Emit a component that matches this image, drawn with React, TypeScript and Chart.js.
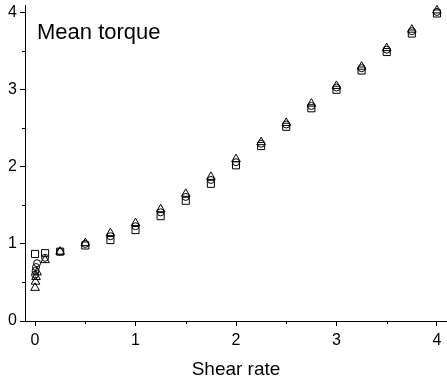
import React, { useEffect, useRef } from 'react';
import { Chart, registerables } from 'chart.js';

Chart.register(...registerables);

// Shear rate values (x) and mean torque values (y) for three series
const xSquares = [0, 0.1, 0.25, 0.5, 0.75, 1, 1.25, 1.5, 1.75, 2, 2.25, 2.5, 2.75, 3, 3.25, 3.5, 3.75, 4];
const ySquares = [0.87, 0.88, 0.9, 0.98, 1.05, 1.18, 1.36, 1.56, 1.78, 2.02, 2.27, 2.52, 2.76, 3.0, 3.25, 3.49, 3.73, 3.99];

const xCircles = [0, 0.005, 0.01, 0.02, 0.1, 0.25, 0.5, 0.75, 1, 1.25, 1.5, 1.75, 2, 2.25, 2.5, 2.75, 3, 3.25, 3.5, 3.75, 4];
const yCircles = [0.6, 0.65, 0.7, 0.75, 0.82, 0.9, 1.0, 1.1, 1.23, 1.41, 1.61, 1.83, 2.06, 2.3, 2.55, 2.79, 3.03, 3.28, 3.52, 3.76, 4.01];

const xTriangles = [0, 0.005, 0.01, 0.02, 0.1, 0.25, 0.5, 0.75, 1, 1.25, 1.5, 1.75, 2, 2.25, 2.5, 2.75, 3, 3.25, 3.5, 3.75, 4];
const yTriangles = [0.43, 0.51, 0.57, 0.63, 0.79, 0.9, 1.01, 1.14, 1.27, 1.45, 1.65, 1.87, 2.1, 2.32, 2.57, 2.82, 3.05, 3.3, 3.54, 3.78, 4.03];

const xMajorTicks = [0, 1, 2, 3, 4];
const xMinorTicks = [0.5, 1.5, 2.5, 3.5];
const yMajorTicks = [0, 1, 2, 3, 4];
const yMinorTicks = [0.5, 1.5, 2.5, 3.5];

const chartTitle = 'Mean torque';
const xAxisTitle = 'Shear rate';

const FONT = '"Liberation Sans", Arial, sans-serif';

const toPoints = (xs: number[], ys: number[]) => xs.map((x, i) => ({ x, y: ys[i] }));

const extrasPlugin = {
  id: 'extras',
  afterDraw(chart: any) {
    const ctx = chart.ctx;
    const xs = chart.scales.x;
    const ys = chart.scales.y;
    ctx.save();
    ctx.strokeStyle = '#000';
    ctx.lineWidth = 1;
    for (const v of xMinorTicks) {
      const px = Math.round(xs.getPixelForValue(v)) + 0.5;
      ctx.beginPath();
      ctx.moveTo(px, chart.chartArea.bottom);
      ctx.lineTo(px, chart.chartArea.bottom + 3);
      ctx.stroke();
    }
    for (const v of yMinorTicks) {
      const py = Math.round(ys.getPixelForValue(v)) + 0.5;
      ctx.beginPath();
      ctx.moveTo(chart.chartArea.left, py);
      ctx.lineTo(chart.chartArea.left - 3, py);
      ctx.stroke();
    }
    ctx.fillStyle = '#000';
    ctx.font = `22px ${FONT}`;
    ctx.textBaseline = 'alphabetic';
    ctx.textAlign = 'left';
    ctx.fillText(chartTitle, 37, 39);
    ctx.restore();
  },
};

export default function App() {
  const ref = useRef<HTMLCanvasElement>(null);
  useEffect(() => {
    if (!ref.current) return;
    const common = {
      showLine: false,
      borderColor: '#000',
      backgroundColor: 'rgba(0,0,0,0)',
      borderWidth: 1,
    };
    const chart = new Chart(ref.current, {
      type: 'scatter',
      data: {
        datasets: [
          { ...common, label: 'squares', data: toPoints(xSquares, ySquares), pointStyle: 'rect', pointRadius: 5, pointHoverRadius: 5 },
          { ...common, label: 'circles', data: toPoints(xCircles, yCircles), pointStyle: 'circle', pointRadius: 3.5, pointHoverRadius: 3.5 },
          { ...common, label: 'triangles', data: toPoints(xTriangles, yTriangles), pointStyle: 'triangle', pointRadius: 5, pointHoverRadius: 5 },
        ],
      },
      options: {
        responsive: false,
        animation: false,
        events: [],
        layout: { autoPadding: false, padding: { top: 5, right: 0, left: 0, bottom: 0 } },
        plugins: { legend: { display: false }, tooltip: { enabled: false }, title: { display: false } },
        scales: {
          x: {
            type: 'linear',
            min: -0.1,
            max: 4.1,
            afterFit: (s: any) => { s.height = 58; s.paddingLeft = 0; s.paddingRight = 0; },
            afterBuildTicks: (s: any) => { s.ticks = xMajorTicks.map((v) => ({ value: v })); },
            grid: { drawOnChartArea: false, drawTicks: true, tickLength: 5, tickColor: '#000', color: '#000' },
            border: { display: true, color: '#000', width: 1 },
            ticks: { color: '#000', font: { family: FONT, size: 16 }, padding: 5, maxRotation: 0, autoSkip: false },
            title: { display: true, text: xAxisTitle, color: '#000', font: { family: FONT, size: 19 }, padding: { top: 0, bottom: -2 } },
          },
          y: {
            type: 'linear',
            min: 0,
            max: 4.1,
            afterFit: (s: any) => { s.width = 25; s.paddingTop = 0; s.paddingBottom = 0; },
            afterBuildTicks: (s: any) => { s.ticks = yMajorTicks.map((v) => ({ value: v })); },
            grid: { drawOnChartArea: false, drawTicks: true, tickLength: 5, tickColor: '#000', color: '#000' },
            border: { display: true, color: '#000', width: 1 },
            ticks: { color: '#000', font: { family: FONT, size: 16 }, padding: 3, autoSkip: false },
          },
        },
      },
      plugins: [extrasPlugin],
    } as any);
    return () => chart.destroy();
  }, []);
  return (
    <div style={{ position: 'fixed', left: 0, top: 0, width: 447, height: 379, background: '#fff' }}>
      <canvas ref={ref} width={447} height={379} style={{ width: 447, height: 379, display: 'block' }} />
    </div>
  );
}
